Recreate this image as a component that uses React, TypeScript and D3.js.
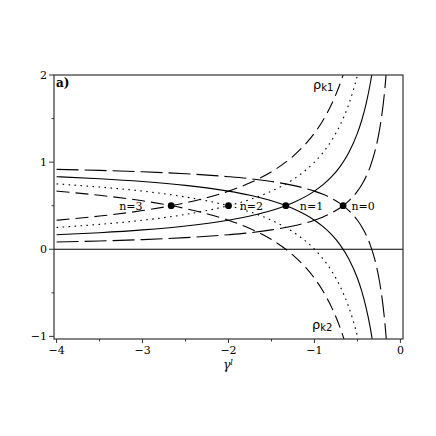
import React from "react";
import * as d3 from "d3";

// axis ticks
const xTicks = [-4, -3, -2, -1, 0];
const xMinor = [-3.5, -2.5, -1.5, -0.5];
const yTicks = [-1, 0, 1, 2];
const yMinor = [-0.5, 0.5, 1.5];

// crossing points rho_k1 = rho_k2, one per n
const modes = ["n=0", "n=1", "n=2", "n=3"];
const crossX = [-0.667, -1.333, -2.0, -2.667];
const crossY = [0.5, 0.5, 0.5, 0.5];

// curves, n = 0..3
const gammaN0 = [-4, -3.5, -3, -2.5, -2, -1.75, -1.5, -1.25, -1, -0.9, -0.8, -0.7, -0.6, -0.5, -0.45, -0.4, -0.35, -0.3, -0.25, -0.22, -0.2, -0.18, -0.16];
const rhoK1N0 = [0.083, 0.095, 0.111, 0.133, 0.167, 0.19, 0.222, 0.267, 0.333, 0.37, 0.417, 0.476, 0.556, 0.667, 0.741, 0.833, 0.952, 1.111, 1.333, 1.515, 1.667, 1.852, 2.083];
const rhoK2N0 = [0.917, 0.905, 0.889, 0.867, 0.833, 0.81, 0.778, 0.733, 0.667, 0.63, 0.583, 0.524, 0.444, 0.333, 0.259, 0.167, 0.048, -0.111, -0.333, -0.515, -0.667, -0.852, -1.083];

const gammaN1 = [-4, -3.5, -3, -2.5, -2, -1.75, -1.5, -1.25, -1, -0.9, -0.8, -0.7, -0.6, -0.5, -0.45, -0.4, -0.35, -0.32];
const rhoK1N1 = [0.167, 0.19, 0.222, 0.267, 0.333, 0.381, 0.444, 0.533, 0.667, 0.741, 0.833, 0.952, 1.111, 1.333, 1.481, 1.667, 1.905, 2.083];
const rhoK2N1 = [0.833, 0.81, 0.778, 0.733, 0.667, 0.619, 0.556, 0.467, 0.333, 0.259, 0.167, 0.048, -0.111, -0.333, -0.481, -0.667, -0.905, -1.083];

const gammaN2 = [-4, -3.5, -3, -2.5, -2, -1.75, -1.5, -1.25, -1, -0.9, -0.8, -0.7, -0.6, -0.55, -0.5, -0.47];
const rhoK1N2 = [0.25, 0.286, 0.333, 0.4, 0.5, 0.571, 0.667, 0.8, 1.0, 1.111, 1.25, 1.429, 1.667, 1.818, 2.0, 2.128];
const rhoK2N2 = [0.75, 0.714, 0.667, 0.6, 0.5, 0.429, 0.333, 0.2, 0.0, -0.111, -0.25, -0.429, -0.667, -0.818, -1.0, -1.128];

const gammaN3 = [-4, -3.5, -3, -2.5, -2, -1.75, -1.5, -1.25, -1.1, -1, -0.9, -0.8, -0.75, -0.7, -0.65];
const rhoK1N3 = [0.333, 0.381, 0.444, 0.533, 0.667, 0.762, 0.889, 1.067, 1.212, 1.333, 1.481, 1.667, 1.778, 1.905, 2.051];
const rhoK2N3 = [0.667, 0.619, 0.556, 0.467, 0.333, 0.238, 0.111, -0.067, -0.212, -0.333, -0.481, -0.667, -0.778, -0.905, -1.051];

const curves = [
  { g: gammaN0, k1: rhoK1N0, k2: rhoK2N0, dash: "22,6" },
  { g: gammaN1, k1: rhoK1N1, k2: rhoK2N1, dash: "none" },
  { g: gammaN2, k1: rhoK1N2, k2: rhoK2N2, dash: "1.6,4.4" },
  { g: gammaN3, k1: rhoK1N3, k2: rhoK2N3, dash: "13,6" },
];

export default function App() {
  const left = 54, right = 403, top = 75, bottom = 339;
  const x = d3.scaleLinear().domain([-4.03, 0.03]).range([left, right]);
  const y = d3.scaleLinear().domain([-1.03, 2]).range([bottom, top]);

  const line = (g: number[], v: number[]) =>
    d3
      .line<number>()
      .x((d, i) => x(g[i]))
      .y((d) => y(d))
      .curve(d3.curveMonotoneX)(v) as string;

  // label anchors (data coords) for the n labels
  const labelX = [-0.57, -1.17, -1.87, -3.0];
  const labelAnchor = ["start", "start", "start", "end"];

  const serif = { fontFamily: "'DejaVu Serif', 'Liberation Serif', serif" };
  const sans = { fontFamily: "'DejaVu Sans', 'Liberation Sans', sans-serif" };

  return (
    <div>
      <style>{"body{margin:0}"}</style>
      <svg width={436} height={436} style={{ display: "block", background: "#fff" }}>
        <defs>
          <clipPath id="plot">
            <rect x={left} y={top} width={right - left} height={bottom - top} />
          </clipPath>
        </defs>

        {/* curves */}
        <g clipPath="url(#plot)" fill="none" stroke="#000" strokeWidth={1.1}>
          {curves.map((c, i) => (
            <g key={i} strokeDasharray={c.dash}>
              <path d={line(c.g, c.k1)} />
              <path d={line(c.g, c.k2)} />
            </g>
          ))}
          <line x1={left} x2={right} y1={y(0)} y2={y(0)} strokeWidth={1} />
        </g>

        {/* crossing points */}
        {crossX.map((cx, i) => (
          <circle key={i} cx={x(cx)} cy={y(crossY[i])} r={3.4} fill="#000" />
        ))}
        {modes.map((m, i) => (
          <text
            key={m}
            x={x(labelX[i])}
            y={y(crossY[i]) + 4}
            textAnchor={labelAnchor[i]}
            style={serif}
            fontSize={11}
          >
            {m}
          </text>
        ))}

        {/* frame */}
        <rect x={left} y={top} width={right - left} height={bottom - top} fill="none" stroke="#333" strokeWidth={1.2} />

        {/* x ticks */}
        {xTicks.map((t) => (
          <g key={t}>
            <line x1={x(t)} x2={x(t)} y1={bottom} y2={bottom + 4} stroke="#333" />
            <text x={x(t)} y={354} textAnchor="middle" style={serif} fontSize={11}>
              {t < 0 ? "\u2212" + Math.abs(t) : t}
            </text>
          </g>
        ))}
        {xMinor.map((t) => (
          <line key={t} x1={x(t)} x2={x(t)} y1={bottom} y2={bottom + 2.5} stroke="#333" />
        ))}

        {/* y ticks */}
        {yTicks.map((t) => (
          <g key={t}>
            <line x1={left - 5} x2={left} y1={y(t)} y2={y(t)} stroke="#333" />
            <text x={left - 7} y={y(t) + 4} textAnchor="end" style={serif} fontSize={11}>
              {t < 0 ? "\u2212" + Math.abs(t) : t}
            </text>
          </g>
        ))}
        {yMinor.map((t) => (
          <line key={t} x1={left - 2.5} x2={left} y1={y(t)} y2={y(t)} stroke="#333" />
        ))}

        {/* axis label */}
        <text x={228} y={369} textAnchor="middle" style={serif} fontSize={12} fontStyle="italic">
          γ<tspan dy={-4} fontSize={8}>l</tspan>
        </text>

        <text x={56} y={87} style={serif} fontSize={12} fontWeight="bold">
          a)
        </text>

        <text x={313} y={89} style={sans} fontSize={13}>
          ρ<tspan dy={2} fontSize={10}>k1</tspan>
        </text>
        <text x={312} y={329} style={sans} fontSize={13}>
          ρ<tspan dy={2} fontSize={10}>k2</tspan>
        </text>
      </svg>
    </div>
  );
}
